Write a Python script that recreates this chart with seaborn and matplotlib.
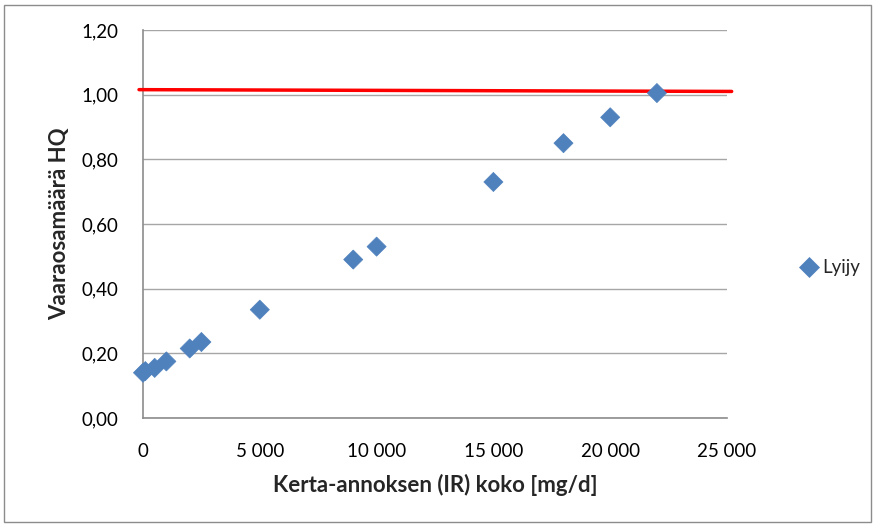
import matplotlib
matplotlib.use("Agg")
import matplotlib.pyplot as plt
import seaborn as sns
import pandas as pd
from matplotlib.ticker import FuncFormatter, MultipleLocator
from matplotlib.patches import Rectangle

sns.set_theme(style="white")
plt.rcParams['font.family'] = ['Lato', 'DejaVu Sans']

ir_size = [0, 100, 500, 1000, 2000, 2500, 5000, 9000, 10000, 15000, 18000, 20000, 22000]
hq = [0.14, 0.145, 0.155, 0.175, 0.215, 0.235, 0.335, 0.49, 0.53, 0.73, 0.85, 0.93, 1.005]
limit_x = [-170, 25200]
limit_y = [1.0155, 1.010]
series_name = "Lyijy"

df = pd.DataFrame({"x": ir_size, "y": hq, "s": series_name})

fig = plt.figure(figsize=(8.76, 5.26), dpi=100)
ax = fig.add_axes([143/876, 1-418/526, (727-143)/876, (418-30)/526])

ax.set_ylim(0, 1.2)
ax.set_xlim(0, 25000)
ax.yaxis.set_major_locator(MultipleLocator(0.2))
ax.yaxis.set_minor_locator(MultipleLocator(0.1))
ax.xaxis.set_major_locator(MultipleLocator(5000))
ax.xaxis.set_minor_locator(MultipleLocator(1000))
ax.grid(axis="y", which="major", color="#a6a6a6", linewidth=1.0, zorder=0)
ax.set_axisbelow(True)

ax.plot(limit_x, limit_y, color="#ff0000", linewidth=2.5, zorder=3, clip_on=False)

sns.scatterplot(data=df, x="x", y="y", hue="s", marker="D", s=95,
                palette=["#4f81bd"], edgecolor="#4f81bd", linewidth=0.5,
                ax=ax, zorder=4, clip_on=False)

ax.yaxis.set_major_formatter(FuncFormatter(lambda v, p: f"{v:.2f}".replace(".", ",")))
ax.xaxis.set_major_formatter(FuncFormatter(lambda v, p: f"{int(round(v)):,}".replace(",", " ")))

for side in ["top", "right"]:
    ax.spines[side].set_visible(False)
for side in ["left", "bottom"]:
    ax.spines[side].set_color("#8c8c8c")
    ax.spines[side].set_linewidth(1.2)

tick_color = "#8c8c8c"
ax.tick_params(axis="y", which="major", direction="out", length=7, width=1.2,
               color=tick_color, labelsize=13.5, labelcolor="black", pad=10.5)
ax.tick_params(axis="y", which="minor", direction="out", length=5, width=1.2,
               color=tick_color)
ax.tick_params(axis="x", which="major", direction="inout", length=14, width=1.2,
               color=tick_color, labelsize=13.5, labelcolor="black", pad=11)
ax.tick_params(axis="x", which="minor", direction="out", length=4, width=1.2,
               color=tick_color)

ax.set_xlabel("Kerta-annoksen (IR) koko [mg/d]", fontsize=16, fontweight="bold", labelpad=10)
ax.set_ylabel("Vaaraosamäärä HQ", fontsize=16, fontweight="bold", labelpad=8)

leg = ax.legend(loc="center left", bbox_to_anchor=(790/876, 1-268/526),
                bbox_transform=fig.transFigure, frameon=False, fontsize=13.5,
                handletextpad=0.1, borderaxespad=0, markerscale=1.0,
                handlelength=1.2)

fig.patches.append(Rectangle((4/876, 4/526), 1-9/876, 1-9/526, transform=fig.transFigure,
                             fill=False, edgecolor="#8c8c8c", linewidth=1.0))

fig.savefig("out.png", dpi=100)
